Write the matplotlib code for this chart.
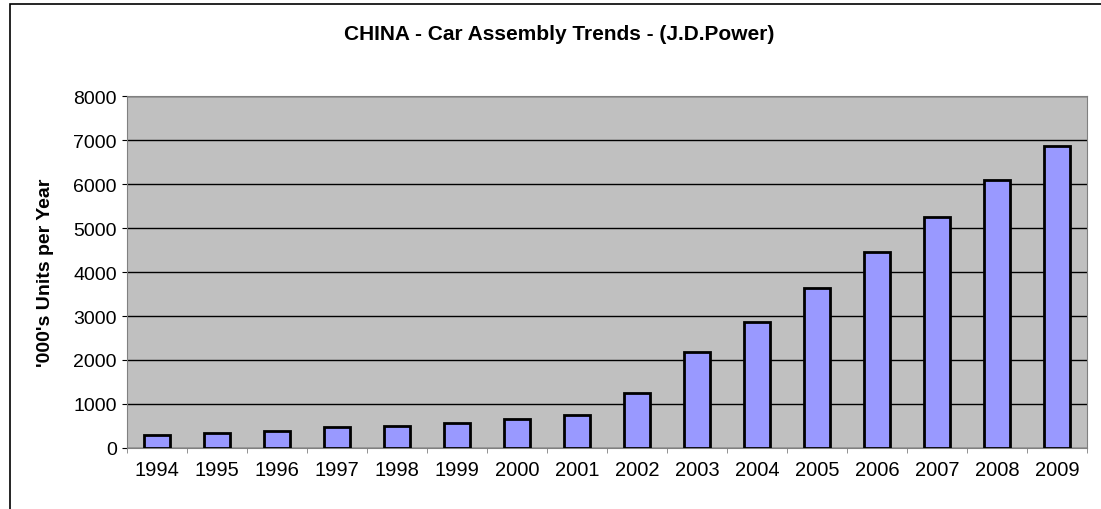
import matplotlib.pyplot as plt
from matplotlib.patches import Rectangle

plt.rcParams['font.family'] = ['Liberation Sans', 'DejaVu Sans']

years = ['1994', '1995', '1996', '1997', '1998', '1999', '2000', '2001',
         '2002', '2003', '2004', '2005', '2006', '2007', '2008', '2009']
units = [300, 330, 390, 470, 510, 560, 660, 740,
         1240, 2190, 2860, 3640, 4450, 5250, 6100, 6860]

W, H = 1101, 510
fig = plt.figure(figsize=(W / 100, H / 100), dpi=100)

# outer chart border (right/bottom fall outside the picture)
fig.patches.append(Rectangle((10 / W, -0.1), 1.2, 1.1 - 5 / H,
                             transform=fig.transFigure, fill=False,
                             edgecolor='black', linewidth=1.2))

ax = fig.add_axes([127 / W, 1 - 449 / H, (1087 - 127) / W, (449 - 97) / H])
ax.set_facecolor('#C0C0C0')

x = list(range(len(years)))
ax.bar(x, units, width=0.42, color='#9999FF', edgecolor='black', linewidth=2, zorder=3)

ax.set_xlim(-0.5, len(years) - 0.5)
ax.set_ylim(0, 8000)
ax.set_yticks(range(0, 8001, 1000))
ax.yaxis.grid(True, color='black', linewidth=1, zorder=1)

ax.set_xticks(x)
ax.set_xticklabels(years)
ax.set_xticks([i - 0.5 for i in range(len(years) + 1)], minor=True)
ax.tick_params(axis='x', which='major', length=0, pad=9, labelsize=14.5)
ax.tick_params(axis='x', which='minor', length=3.6, color='#808080', direction='out')
ax.tick_params(axis='y', length=3.6, direction='out', labelsize=14, pad=3.6)

for s in ax.spines.values():
    s.set_color('#808080')

ax.set_ylabel("'000's Units per Year", fontsize=14, fontweight='bold', labelpad=14)
fig.text(559 / W, 1 - 35 / H, 'CHINA - Car Assembly Trends - (J.D.Power)',
         ha='center', va='center', fontsize=15, fontweight='bold')

fig.savefig('out.png', dpi=100)
